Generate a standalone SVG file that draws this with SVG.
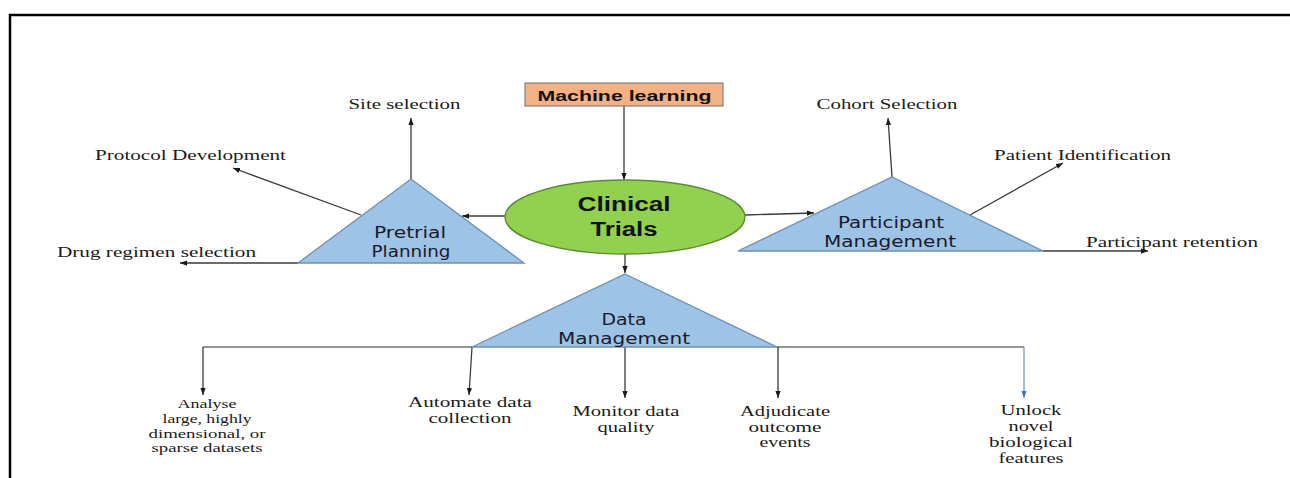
<svg xmlns="http://www.w3.org/2000/svg" width="1290" height="478" viewBox="0 0 1290 478">
  <defs>
    <marker id="arrow" viewBox="0 0 8 6" refX="8" refY="3" markerWidth="7" markerHeight="6" markerUnits="userSpaceOnUse" orient="auto">
      <path d="M0,0 L8,3 L0,6 z" fill="#1a1a1a"/>
    </marker>
    <marker id="arrowBlue" viewBox="0 0 8 6" refX="8" refY="3" markerWidth="7" markerHeight="6" markerUnits="userSpaceOnUse" orient="auto">
      <path d="M0,0 L8,3 L0,6 z" fill="#4472c4"/>
    </marker>
    <style>
      .frame { fill: none; stroke: #000; stroke-width: 2.5; }
      .tri { fill: #9dc3e6; stroke: #6f8fb8; stroke-width: 1.3; }
      .link { fill: none; stroke: #3a3a3a; stroke-width: 1.3; marker-end: url(#arrow); }
      .bus { fill: none; stroke: #707070; stroke-width: 1.3; }
      .blue { fill: none; stroke: #7f93b4; stroke-width: 1.3; marker-end: url(#arrowBlue); }
      .serif { font-family: "Liberation Serif", "Times New Roman", serif; fill: #1a1a1a; }
      .top { font-size: 15px; }
      .bot { font-size: 15px; text-anchor: middle; }
      .small { font-size: 13.5px; text-anchor: middle; }
      .tlabel { font-family: "DejaVu Sans", Verdana, sans-serif; font-size: 16.5px; fill: #1a1a2a; text-anchor: middle; }
      .bold { font-family: "Liberation Sans", Arial, sans-serif; font-weight: bold; fill: #111; text-anchor: middle; }
    </style>
  </defs>

  <!-- page frame: top and left edges only -->
  <path class="frame" d="M10,478 V15 H1290"/>

  <!-- connectors -->
  <g id="connectors">
    <line class="link" x1="624" y1="106" x2="624" y2="180"/>
    <line class="link" x1="505" y1="216" x2="462" y2="216"/>
    <line class="link" x1="411" y1="179" x2="411" y2="118"/>
    <line class="link" x1="361" y1="215" x2="233" y2="168"/>
    <line class="link" x1="298" y1="263" x2="180" y2="263"/>
    <line class="link" x1="745" y1="215" x2="814" y2="213"/>
    <line class="link" x1="892" y1="177" x2="888" y2="118"/>
    <line class="link" x1="970" y1="215" x2="1063" y2="163"/>
    <line class="link" x1="1043" y1="251" x2="1148" y2="251"/>
    <line class="link" x1="625" y1="254" x2="625" y2="273"/>
    <!-- data management branches -->
    <polyline class="bus" points="472,347 203,347"/>
    <polyline class="bus" points="777,347 1024,347"/>
    <line class="link" x1="203" y1="347" x2="203" y2="395"/>
    <line class="link" x1="472" y1="347" x2="469" y2="395"/>
    <line class="link" x1="625" y1="347" x2="625" y2="398"/>
    <line class="link" x1="778" y1="347" x2="778" y2="398"/>
    <line class="blue" x1="1024" y1="347" x2="1024" y2="398"/>
  </g>

  <!-- source box -->
  <g id="machine-learning">
    <rect x="525" y="83" width="198" height="23" fill="#f4b183" stroke="#7f7f7f" stroke-width="1.2"/>
    <text class="bold" x="624.5" y="100.5" font-size="15" textLength="174" lengthAdjust="spacingAndGlyphs">Machine learning</text>
  </g>

  <!-- central topic -->
  <g id="clinical-trials">
    <ellipse cx="625" cy="217" rx="120" ry="37" fill="#92d050" stroke="#5b8a33" stroke-width="1.3"/>
    <text class="bold" x="624" y="211" font-size="20" textLength="93" lengthAdjust="spacingAndGlyphs">Clinical</text>
    <text class="bold" x="624" y="236" font-size="20" textLength="67" lengthAdjust="spacingAndGlyphs">Trials</text>
  </g>

  <!-- pretrial planning -->
  <g id="pretrial-planning">
    <polygon class="tri" points="411,179 524,263 298,263"/>
    <text class="tlabel" x="410" y="238" textLength="72" lengthAdjust="spacingAndGlyphs">Pretrial</text>
    <text class="tlabel" x="411" y="256.5" textLength="79" lengthAdjust="spacingAndGlyphs">Planning</text>
  </g>
  <g id="site-selection">
    <text class="serif top" x="348.5" y="109" textLength="112" lengthAdjust="spacingAndGlyphs">Site selection</text>
  </g>
  <g id="protocol-development">
    <text class="serif top" x="95" y="160" textLength="191" lengthAdjust="spacingAndGlyphs">Protocol Development</text>
  </g>
  <g id="drug-regimen-selection">
    <text class="serif top" x="57" y="257" textLength="199" lengthAdjust="spacingAndGlyphs">Drug regimen selection</text>
  </g>

  <!-- participant management -->
  <g id="participant-management">
    <polygon class="tri" points="892,177 1043,251 738,251"/>
    <text class="tlabel" x="891" y="228" textLength="106" lengthAdjust="spacingAndGlyphs">Participant</text>
    <text class="tlabel" x="890" y="247" textLength="132" lengthAdjust="spacingAndGlyphs">Management</text>
  </g>
  <g id="cohort-selection">
    <text class="serif top" x="816.5" y="109" textLength="141" lengthAdjust="spacingAndGlyphs">Cohort Selection</text>
  </g>
  <g id="patient-identification">
    <text class="serif top" x="994" y="160" textLength="177" lengthAdjust="spacingAndGlyphs">Patient Identification</text>
  </g>
  <g id="participant-retention">
    <text class="serif top" x="1086" y="247" textLength="172" lengthAdjust="spacingAndGlyphs">Participant retention</text>
  </g>

  <!-- data management -->
  <g id="data-management">
    <polygon class="tri" points="625,274 777,347 472,347"/>
    <text class="tlabel" x="624" y="325" textLength="45" lengthAdjust="spacingAndGlyphs">Data</text>
    <text class="tlabel" x="624" y="343.5" textLength="132" lengthAdjust="spacingAndGlyphs">Management</text>
  </g>
  <g id="analyse-datasets">
    <text class="serif small" x="207" y="408" textLength="59" lengthAdjust="spacingAndGlyphs">Analyse</text>
    <text class="serif small" x="207" y="423" textLength="89" lengthAdjust="spacingAndGlyphs">large, highly</text>
    <text class="serif small" x="207" y="437.5" textLength="117" lengthAdjust="spacingAndGlyphs">dimensional, or</text>
    <text class="serif small" x="207" y="451.5" textLength="111" lengthAdjust="spacingAndGlyphs">sparse datasets</text>
  </g>
  <g id="automate-data-collection">
    <text class="serif bot" x="470" y="407" textLength="124" lengthAdjust="spacingAndGlyphs">Automate data</text>
    <text class="serif bot" x="470" y="423" textLength="83" lengthAdjust="spacingAndGlyphs">collection</text>
  </g>
  <g id="monitor-data-quality">
    <text class="serif bot" x="626" y="416" textLength="107" lengthAdjust="spacingAndGlyphs">Monitor data</text>
    <text class="serif bot" x="626" y="431.5" textLength="57" lengthAdjust="spacingAndGlyphs">quality</text>
  </g>
  <g id="adjudicate-outcome-events">
    <text class="serif bot" x="785" y="416" textLength="90" lengthAdjust="spacingAndGlyphs">Adjudicate</text>
    <text class="serif bot" x="785" y="431.5" textLength="73" lengthAdjust="spacingAndGlyphs">outcome</text>
    <text class="serif bot" x="785" y="447" textLength="51" lengthAdjust="spacingAndGlyphs">events</text>
  </g>
  <g id="unlock-biological-features">
    <text class="serif bot" x="1031" y="415" textLength="61" lengthAdjust="spacingAndGlyphs">Unlock</text>
    <text class="serif bot" x="1031" y="431" textLength="45" lengthAdjust="spacingAndGlyphs">novel</text>
    <text class="serif bot" x="1031" y="447" textLength="84" lengthAdjust="spacingAndGlyphs">biological</text>
    <text class="serif bot" x="1031" y="463" textLength="65" lengthAdjust="spacingAndGlyphs">features</text>
  </g>
</svg>
